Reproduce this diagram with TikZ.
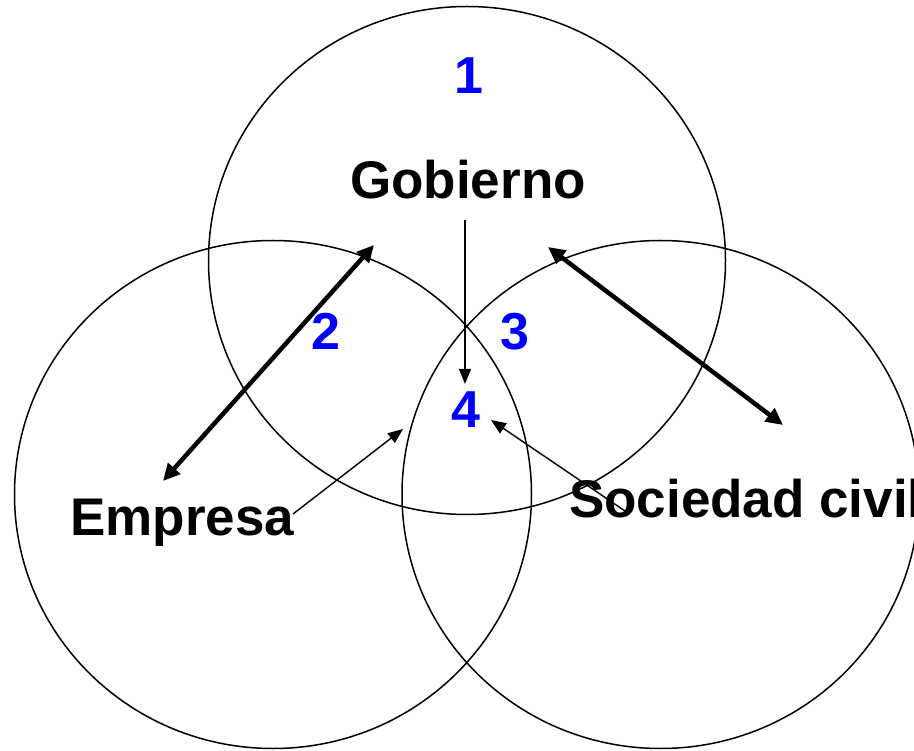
\documentclass[tikz,border=0pt]{standalone}
\usepackage{fontspec}
\setmainfont{Liberation Sans}
\usetikzlibrary{shapes.geometric,arrows.meta}
\definecolor{numblue}{RGB}{0,0,255}
\tikzset{
  ring/.style={ellipse, draw=black, line width=1.5pt, minimum width=517pt, minimum height=508pt, inner sep=0pt},
  lbl/.style={inner sep=0pt, font=\fontsize{53}{60}\selectfont\bfseries, text=black},
  num/.style={inner sep=0pt, anchor=base, font=\fontsize{52}{60}\selectfont\bfseries, text=numblue},
  bigarrow/.style={line width=4.5pt, {Triangle[length=17pt,width=16pt]}-{Triangle[length=17pt,width=16pt]}},
  thinarrow/.style={line width=1.4pt, -{Triangle[length=15pt,width=12pt]}}
}
\begin{document}
\begin{tikzpicture}[x=1pt,y=-1pt]
\useasboundingbox (0,0) rectangle (914,751);
\fill[white] (0,0) rectangle (914,751);
% circles
\node[ring] (gov) at (467,260.5) {};
\node[ring] (emp) at (273,494.5) {};
\node[ring] (soc) at (660.5,494.5) {};
% labels
\node[lbl, anchor=base] (tgov) at (468,199) {Gobierno};
\node[lbl, anchor=base west] (temp) at (70,535) {Empresa};
\node[lbl, anchor=base west] (tsoc) at (569,518) {Sociedad civil};
\node[num] (n1) at (469,94) {1};
\node[num] (n2) at (326,350) {2};
\node[num] (n3) at (515,350) {3};
\node[num] (n4) at (466,428) {4};
% connector endpoints
\coordinate (a1) at (374,245);
\coordinate (a2) at (163,481);
\coordinate (b1) at (548,247);
\coordinate (b2) at (783,425);
\coordinate (v1) at (465,220);
\coordinate (v2) at (465,384);
\coordinate (e1) at (293,514);
\coordinate (e2) at (403,429);
\coordinate (s1) at (625,511);
\coordinate (s2) at (491,420);
% arrows
\draw[bigarrow] (a2) -- (a1);
\draw[bigarrow] (b1) -- (b2);
\draw[thinarrow] (v1) -- (v2);
\draw[thinarrow] (e1) -- (e2);
\draw[thinarrow] (s1) -- (s2);
\end{tikzpicture}
\end{document}
